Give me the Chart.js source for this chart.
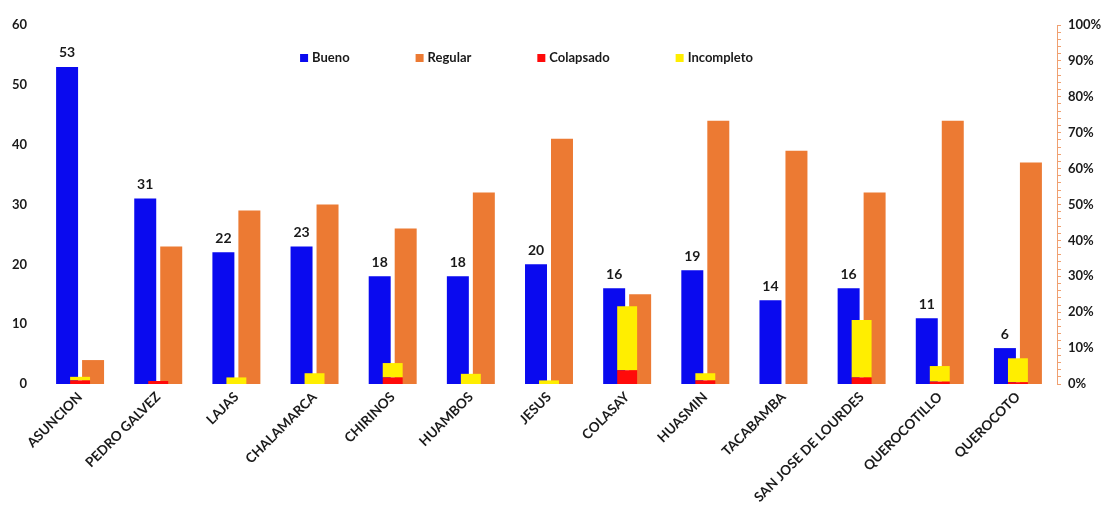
<!DOCTYPE html>
<html>
<head>
<meta charset="utf-8">
<script src="https://cdn.jsdelivr.net/npm/chart.js@4.4.1/dist/chart.umd.min.js"></script>
<style>
  html, body { margin: 0; padding: 0; background: #fff; }
  #wrap { width: 1107px; height: 507px; }
</style>
</head>
<body>
<div id="wrap"><canvas id="estado"></canvas></div>
<script>
const categories = ["ASUNCION", "PEDRO GALVEZ", "LAJAS", "CHALAMARCA", "CHIRINOS", "HUAMBOS", "JESUS",
  "COLASAY", "HUASMIN", "TACABAMBA", "SAN JOSE DE LOURDES", "QUEROCOTILLO", "QUEROCOTO"];
const bueno = [53, 31, 22, 23, 18, 18, 20, 16, 19, 14, 16, 11, 6];
const regular = [4, 23, 29, 30, 26, 32, 41, 15, 44, 39, 32, 44, 37];
const colapsado = [0.6, 0.5, 0, 0, 1.1, 0, 0, 2.3, 0.6, 0, 1.1, 0.4, 0.3];
const incompleto = [0.6, 0, 1.1, 1.8, 2.4, 1.7, 0.6, 10.7, 1.2, 0, 9.6, 2.6, 4.0];
const leftTicks = [0, 60, 10];
const rightTicks = [0, 100, 10];

const FONT = "Lato, 'Open Sans', sans-serif";
const TEXT = "#1a1a1a";

// numbers over the blue bars
const barLabels = {
  id: "barLabels",
  afterDatasetsDraw(chart) {
    const ctx = chart.ctx;
    const meta = chart.getDatasetMeta(0);
    ctx.save();
    ctx.font = "bold 14px " + FONT;
    ctx.fillStyle = TEXT;
    ctx.textAlign = "center";
    ctx.textBaseline = "bottom";
    meta.data.forEach((bar, i) => {
      ctx.fillText(bueno[i], bar.x, bar.y - 7);
    });
    ctx.restore();
  }
};

// legend drawn inside the plot, in one row
const innerLegend = {
  id: "innerLegend",
  afterDraw(chart) {
    const ctx = chart.ctx;
    const area = chart.chartArea;
    ctx.save();
    ctx.font = "bold 13px " + FONT;
    ctx.textBaseline = "middle";
    ctx.textAlign = "left";
    let x = area.left + area.width * 0.255;
    const y = area.top + 33;
    chart.data.datasets.forEach(ds => {
      ctx.fillStyle = ds.backgroundColor;
      ctx.fillRect(x, y - 4, 8, 8);
      ctx.fillStyle = TEXT;
      ctx.fillText(ds.label, x + 12, y);
      x += 12 + ctx.measureText(ds.label).width + 66;
    });
    ctx.restore();
  }
};

new Chart(document.getElementById("estado"), {
  type: "bar",
  data: {
    labels: categories,
    datasets: [
      { label: "Bueno", data: bueno, backgroundColor: "#0a0aef", stack: "b", order: 1,
        categoryPercentage: 0.665, barPercentage: 0.846 },
      { label: "Regular", data: regular, backgroundColor: "#ec7a33", stack: "r", order: 1,
        categoryPercentage: 0.665, barPercentage: 0.846 },
      { label: "Colapsado", data: colapsado, backgroundColor: "#ff0a0a", stack: "c", order: 0,
        grouped: false, categoryPercentage: 1, barPercentage: 0.255 },
      { label: "Incompleto", data: incompleto, backgroundColor: "#ffee00", stack: "c", order: 0,
        grouped: false, categoryPercentage: 1, barPercentage: 0.255 }
    ]
  },
  options: {
    responsive: true,
    maintainAspectRatio: false,
    animation: false,
    layout: { padding: { top: 25, left: 0, right: 0, bottom: 0 } },
    plugins: {
      legend: { display: false },
      tooltip: { enabled: false }
    },
    scales: {
      x: {
        grid: { display: false, drawTicks: false },
        border: { display: false },
        ticks: {
          color: TEXT, font: { family: FONT, weight: "bold", size: 13.5 },
          minRotation: 45, maxRotation: 45, padding: 5, autoSkip: false
        },
        afterFit(scale) { scale.height = 123; }
      },
      y: {
        position: "left",
        stacked: true,
        min: leftTicks[0], max: leftTicks[1],
        grid: { display: false },
        border: { display: false },
        ticks: {
          stepSize: leftTicks[2], color: TEXT, padding: 6,
          font: { family: FONT, weight: "bold", size: 13 }
        },
        afterFit(scale) { scale.width = 41; }
      },
      yPct: {
        position: "right",
        min: rightTicks[0], max: rightTicks[1],
        grid: { drawOnChartArea: false, color: "#f0a070", tickLength: 4 },
        border: { display: true, color: "#f0a070", width: 1 },
        ticks: {
          stepSize: 2, autoSkip: false, color: TEXT, padding: 7,
          font: { family: FONT, weight: "bold", size: 13 },
          callback: v => (v % rightTicks[2] === 0 ? v + "%" : "")
        },
        afterFit(scale) { scale.width = 50; }
      }
    }
  },
  plugins: [barLabels, innerLegend]
});
</script>
</body>
</html>
